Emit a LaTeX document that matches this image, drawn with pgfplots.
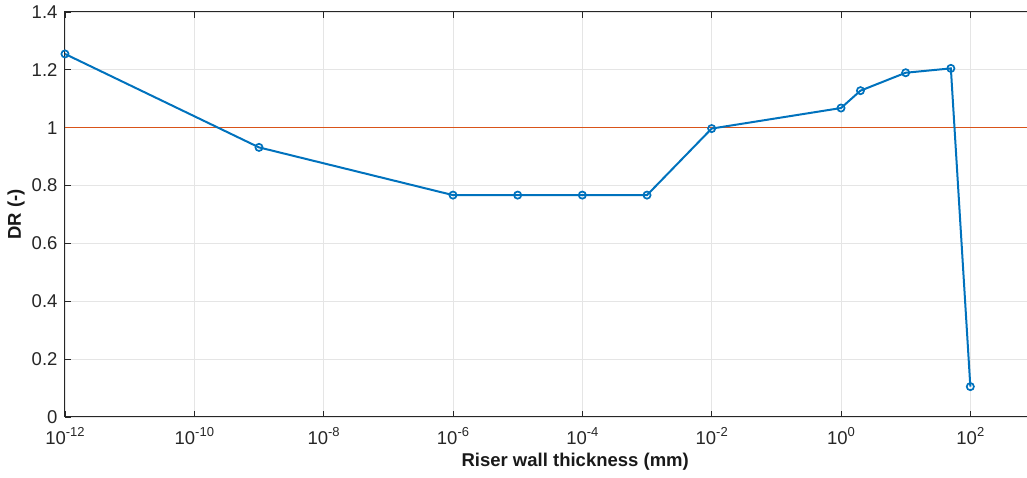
\documentclass[border=0pt]{standalone}
\usepackage{pgfplots}
\pgfplotsset{compat=1.18}
\usepackage{fontspec}
\setmainfont{Liberation Sans}
\definecolor{mblue}{RGB}{0,114,189}
\definecolor{morange}{RGB}{217,83,25}
\definecolor{axgray}{RGB}{38,38,38}
\newcommand{\pw}[1]{10\raisebox{8pt}{\fontsize{13}{14}\selectfont #1}}
\begin{document}
\begin{tikzpicture}
\begin{axis}[
  name=ax,
  xmode=log,
  scale only axis,
  width=970pt, height=405pt,
  xmin=1e-12, xmax=1e3,
  ymin=0, ymax=1.4,
  xtick={1e-12,1e-10,1e-8,1e-6,1e-4,1e-2,1,1e2},
  xticklabels={\pw{-12},\pw{-10},\pw{-8},\pw{-6},\pw{-4},\pw{-2},\pw{0},\pw{2}},
  ytick={0,0.2,0.4,0.6,0.8,1,1.2,1.4},
  yticklabels={0,0.2,0.4,0.6,0.8,1,1.2,1.4},
  minor xtick={},
  minor tick num=0,
  tick align=inside,
  tick pos=both,
  major tick length=6pt,
  grid=major,
  major grid style={draw=black!10, line width=0.8pt},
  axis line style={draw=axgray, line width=1pt},
  every tick/.style={draw=axgray, line width=0.8pt},
  every tick label/.append style={font=\fontsize{18.5}{21}\selectfont, text=axgray},
  xticklabel style={anchor=base, yshift=-28pt},
  yticklabel style={anchor=east, xshift=-4pt},
  /pgf/number format/assume math mode=true,
  xlabel={\textbf{Riser wall thickness (mm)}},
  ylabel={\textbf{DR (-)}},
  every axis label/.append style={font=\fontsize{18.5}{21}\selectfont, text=black!90},
  x label style={at={(axis description cs:0.526,0)}, anchor=base, yshift=-50pt},
  y label style={at={(axis description cs:0,0.5)}, anchor=base, yshift=44pt},
  clip=false,
]
\addplot[draw=morange, line width=1.2pt, mark=none] coordinates {(1e-12,1.0) (1e3,1.0)};
\addplot[mblue, line width=2pt, mark=o, mark size=3.6pt, mark options={solid, line width=1.7pt}] coordinates {
(1e-12,1.255)
(1e-9,0.932)
(1e-6,0.767)
(1e-5,0.767)
(1e-4,0.767)
(1e-3,0.767)
(1e-2,0.997)
(1,1.068)
(2,1.128)
(10,1.190)
(50,1.205)
(100,0.105)
};
\end{axis}
\pgfresetboundingbox
\path[use as bounding box] ([xshift=-65pt,yshift=-61pt]ax.south west) rectangle ([xshift=962pt,yshift=417pt]ax.south west);
\end{tikzpicture}
\end{document}
